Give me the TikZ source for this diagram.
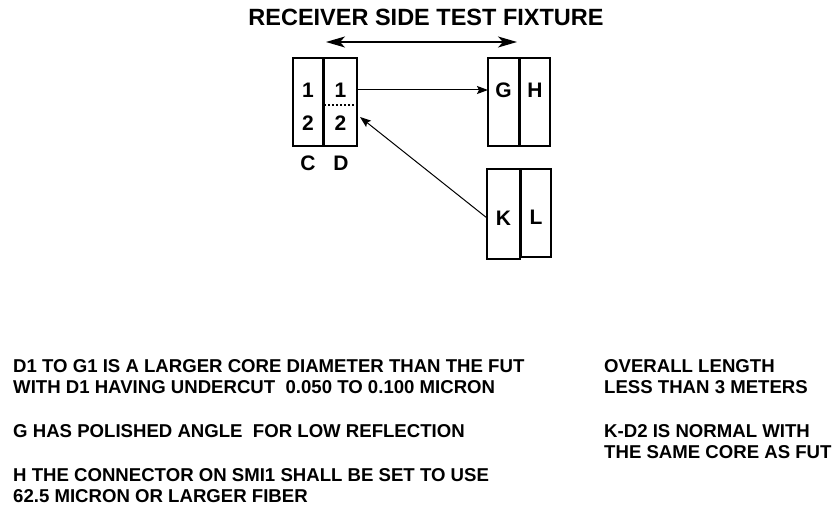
\documentclass[tikz,border=0pt]{standalone}
\usepackage{fontspec}
\setmainfont{Liberation Sans}
\usetikzlibrary{arrows.meta}
\begin{document}
\begin{tikzpicture}[x=1pt,y=-1pt,
  box/.style={draw, line width=1.3pt, inner sep=0pt, outer sep=0pt},
  lbl/.style={font=\fontsize{21}{21}\selectfont\bfseries, inner sep=0pt},
  note/.style={font=\fontsize{18.6}{21}\selectfont\bfseries, anchor=base west, inner sep=0pt},
  conn/.style={line width=1pt, -{Stealth[length=11pt,width=8pt,inset=2pt]}}]
\useasboundingbox (0,0) rectangle (838,508);
% title
\node[font=\fontsize{23.5}{24}\selectfont\bfseries, anchor=base, inner sep=0pt] (title) at (426,26) {RECEIVER SIDE TEST FIXTURE};
\coordinate (tl) at (326,42);
\coordinate (tr) at (517,42);
\draw[line width=1.3pt, {Stealth[length=19pt,width=11pt,inset=5pt]}-{Stealth[length=19pt,width=11pt,inset=5pt]}] (tl) -- (tr);
% boxes
\node[box, minimum width=30pt, minimum height=88pt] (C) at (308,102) {};
\node[box, minimum width=33pt, minimum height=88pt] (D) at (340.5,102) {};
\node[box, minimum width=31pt, minimum height=88pt] (G) at (503.5,102) {};
\node[box, minimum width=30pt, minimum height=88pt] (H) at (535,102) {};
\node[box, minimum width=33pt, minimum height=90pt] (K) at (503.5,214) {};
\node[box, minimum width=30pt, minimum height=88pt] (L) at (536,213) {};
% labels
\node[lbl] (c1) at (308,90) {1};
\node[lbl] (c2) at (308,123) {2};
\node[lbl] (d1) at (340.5,90) {1};
\node[lbl] (d2) at (340.5,123) {2};
\node[lbl] (g) at (503.5,90) {G};
\node[lbl] (h) at (535,90) {H};
\node[lbl] (k) at (503.5,218) {K};
\node[lbl] (l) at (536,217) {L};
\node[lbl] (clab) at (308,163) {C};
\node[lbl] (dlab) at (341,163) {D};
% dotted divider
\draw[line width=1.3pt, dash pattern=on 1.5pt off 2.5pt] ([yshift=-3pt]D.west) -- ([yshift=-3pt]D.east);
% connectors
\draw[conn] (d1 -| D.east) -- (d1 -| G.west);
\coordinate (tipK) at (360,117);
\draw[conn] (k -| K.west) -- (tipK);
% notes
\node[note] (n1) at (13,372) {D1 TO G1 IS A LARGER CORE DIAMETER THAN THE FUT};
\node[note] (n2) at (13,393) {WITH D1 HAVING UNDERCUT\ \ 0.050 TO 0.100 MICRON};
\node[note] (n3) at (13,437) {G HAS POLISHED ANGLE\ \ FOR LOW REFLECTION};
\node[note] (n4) at (13,481) {H THE CONNECTOR ON SMI1 SHALL BE SET TO USE};
\node[note] (n5) at (13,502) {62.5 MICRON OR LARGER FIBER};
\node[note] (r1) at (604,372) {OVERALL LENGTH};
\node[note] (r2) at (604,393) {LESS THAN 3 METERS};
\node[note] (r3) at (604,437) {K-D2 IS NORMAL WITH};
\node[note] (r4) at (604,458) {THE SAME CORE AS FUT};
\end{tikzpicture}
\end{document}
